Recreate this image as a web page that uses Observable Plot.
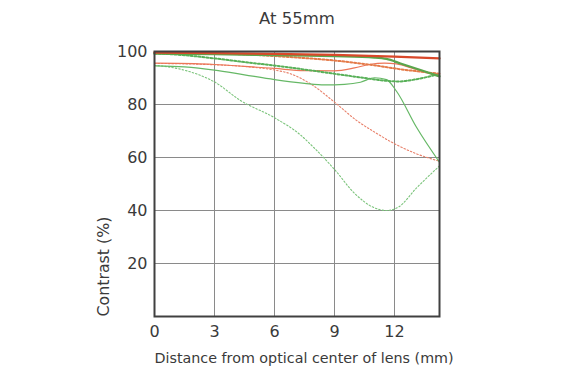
<!DOCTYPE html>
<html>
<head>
<meta charset="utf-8">
<script src="https://cdn.jsdelivr.net/npm/d3@7"></script>
<script src="https://cdn.jsdelivr.net/npm/@observablehq/plot@0.6"></script>
<style>
  html, body { margin: 0; padding: 0; background: #fff; }
  svg { display: block; }
</style>
</head>
<body>
<div id="chart"></div>
<script>
// ---- Data ----
const title = "At 55mm";
const xLabel = "Distance from optical center of lens (mm)";
const yLabel = "Contrast (%)";
const xTicks = [0, 3, 6, 9, 12];
const yTicks = [20, 40, 60, 80, 100];

// thick red solid
const redThickX = [0, 3, 6, 9, 12, 14.25];
const redThickY = [99.6, 99.4, 99.1, 98.7, 98.1, 97.4];
// thick green solid
const greenThickX = [0, 3, 6, 9, 11, 11.6, 12.3, 13.3, 14.25];
const greenThickY = [99.2, 99.0, 98.6, 98.2, 97.7, 97.2, 95.5, 93.0, 90.6];
// thick orange dotted
const orangeDotThickX = [0, 3, 6, 6.8, 9, 10.8, 12.3, 13.3, 14.25];
const orangeDotThickY = [99.7, 99.3, 98.3, 97.9, 96.6, 95.0, 93.3, 92.4, 91.6];
// thick green dotted
const greenDotThickX = [0, 1.5, 3, 4.5, 6, 7.5, 9, 10.5, 11.5, 12.2, 13, 14.25];
const greenDotThickY = [99.3, 98.6, 97.4, 96.0, 94.7, 93.2, 91.6, 90.0, 89.0, 88.7, 89.4, 91.6];
// thin red solid
const redThinX = [0, 2, 3, 4.5, 6, 7.5, 9, 10, 10.8, 11.5, 12.1, 13, 14.25];
const redThinY = [95.6, 95.4, 95.1, 94.4, 93.6, 92.8, 92.7, 93.8, 95.2, 95.6, 95.3, 93.4, 90.7];
// thin green solid
const greenThinX = [0, 1.5, 3, 4.5, 6, 7.5, 8.5, 9.5, 10.3, 11, 11.6, 12.1, 13.1, 14.25];
const greenThinY = [94.6, 94.2, 93.0, 91.2, 89.4, 88.0, 87.4, 87.6, 88.4, 90.1, 89.4, 85.0, 71.4, 58.2];
// thin orange dotted
const orangeDotThinX = [0, 3, 5, 6, 6.8, 7.8, 9, 10.1, 11, 12, 13.1, 14.25];
const orangeDotThinY = [95.5, 95.0, 94.0, 93.0, 91.6, 87.8, 80.9, 74.0, 69.6, 65.2, 61.4, 58.6];
// thin green dotted
const greenDotThinX = [0, 1, 2, 3, 4.3, 6, 7.3, 8, 9, 10, 11, 11.6, 12.2, 13.1, 14.25];
const greenDotThinY = [94.8, 93.8, 91.8, 88.5, 81.5, 75.0, 68.5, 63.5, 55.5, 46.5, 41.0, 40.0, 41.3, 48.5, 56.8];

const toRows = (xs, ys) => xs.map((x, i) => ({x, y: ys[i]}));

const font = "'DejaVu Sans', Verdana, sans-serif";
const textColor = "#3a3a3a";

const series = [
  {xs: greenDotThinX, ys: greenDotThinY, stroke: "#7cc47c", width: 1.1, dash: "1.5,2"},
  {xs: orangeDotThinX, ys: orangeDotThinY, stroke: "#e8806a", width: 1.1, dash: "1.5,2"},
  {xs: greenThinX, ys: greenThinY, stroke: "#66b866", width: 1.2, dash: null},
  {xs: redThinX, ys: redThinY, stroke: "#ec7658", width: 1.2, dash: null},
  {xs: greenDotThickX, ys: greenDotThickY, stroke: "#58b058", width: 2, dash: "2,2"},
  {xs: orangeDotThickX, ys: orangeDotThickY, stroke: "#e47a48", width: 2, dash: "2,2"},
  {xs: greenThickX, ys: greenThickY, stroke: "#5aa64c", width: 2.2, dash: null},
  {xs: redThickX, ys: redThickY, stroke: "#d9482a", width: 2.2, dash: null}
];

const chart = Plot.plot({
  width: 577,
  height: 383,
  marginLeft: 154,
  marginRight: 138,
  marginTop: 51,
  marginBottom: 67,
  style: {fontFamily: font, color: textColor, background: "#fff"},
  x: {domain: [0, 14.25]},
  y: {domain: [0, 100]},
  marks: [
    Plot.gridX([3, 6, 9, 12], {stroke: "#8a8a8a", strokeOpacity: 1, strokeWidth: 1}),
    Plot.gridY([20, 40, 60, 80], {stroke: "#8a8a8a", strokeOpacity: 1, strokeWidth: 1}),
    ...series.map(s => Plot.line(toRows(s.xs, s.ys), {
      x: "x", y: "y", curve: "monotone-x",
      stroke: s.stroke, strokeWidth: s.width,
      strokeDasharray: s.dash ?? undefined
    })),
    Plot.frame({stroke: "#404040", strokeWidth: 2}),
    Plot.axisX({ticks: xTicks, tickSize: 0, tickPadding: 9, fontSize: 16, label: null, tickFormat: d => d}),
    Plot.axisY({ticks: yTicks, tickSize: 0, tickPadding: 7, fontSize: 16, label: null, tickFormat: d => d}),
    Plot.text([title], {frameAnchor: "top", dy: -39, fontSize: 16.5, fill: textColor}),
    Plot.text([xLabel], {frameAnchor: "bottom-left", textAnchor: "start", dy: 46, fontSize: 14.3, fill: textColor}),
    Plot.text([yLabel], {frameAnchor: "bottom-left", textAnchor: "start", rotate: -90, dx: -46, fontSize: 15.8, fill: textColor})
  ]
});
document.getElementById("chart").appendChild(chart);
</script>
</body>
</html>
